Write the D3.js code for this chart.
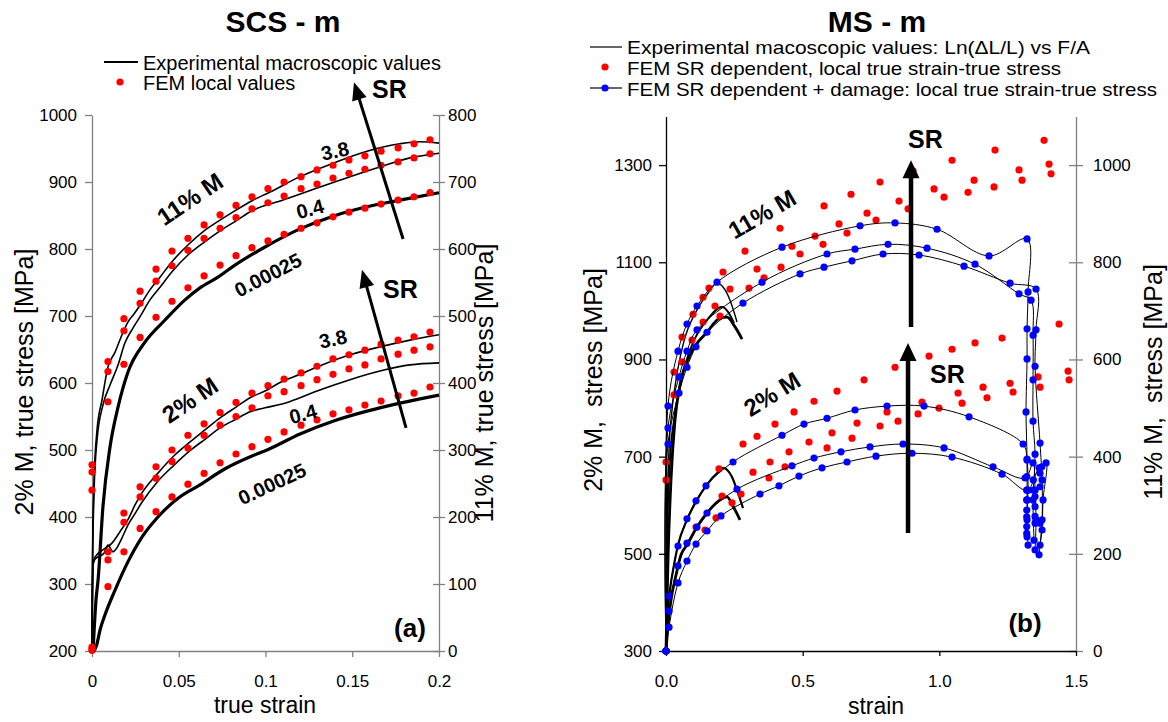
<!DOCTYPE html>
<meta charset="utf-8">
<title>SCS - m / MS - m</title>
<style>
body { margin: 0; background: #fff; }
text { font-family: "Liberation Sans", Arial, Helvetica, sans-serif; }
</style>
<body>
<script src="https://d3js.org/d3.v7.min.js"></script>
<script>
// ================= panel (a) SCS - m =================
// experimental curves, 11% M read on the right axis
var a11_38_x = [0, 0.0003, 0.0012, 0.0029, 0.0058, 0.0092, 0.0133, 0.0173, 0.0207, 0.0242, 0.0277, 0.0334, 0.0392, 0.0461, 0.0553, 0.0646, 0.0738, 0.083, 0.0922, 0.1026, 0.1199, 0.1389, 0.1585, 0.1775, 0.189, 0.2];
var a11_38_y = [0, 136, 255, 330, 375, 424, 446, 472, 491, 503, 516, 539, 558, 581, 606, 627, 643, 658, 672, 685, 708, 728, 746, 757, 760, 758];
var a11_04_x = [0, 0.0003, 0.0012, 0.0029, 0.0063, 0.0104, 0.015, 0.019, 0.0236, 0.0277, 0.0334, 0.0392, 0.0461, 0.0553, 0.0646, 0.0738, 0.083, 0.0922, 0.1101, 0.1297, 0.1487, 0.1677, 0.1833, 0.2];
var a11_04_y = [0, 121, 240, 315, 367, 397, 427, 460, 482, 499, 524, 543, 566, 591, 610, 627, 642, 657, 673, 691, 708, 724, 736, 743];
var a11_00025_x = [0.0006, 0.0023, 0.0035, 0.0063, 0.0104, 0.015, 0.0207, 0.0305, 0.0421, 0.0536, 0.0622, 0.0726, 0.0824, 0.0997, 0.1199, 0.1389, 0.1585, 0.1775, 0.2];
var a11_00025_y = [0, 76, 106, 215, 305, 364, 416, 461, 494, 524, 542, 558, 576, 603, 630, 649, 663, 673, 684];
// experimental curves, 2% M read on the left axis
var a2_38_x = [0, 0.0002, 0.0006, 0.0017, 0.0069, 0.0115, 0.0161, 0.0207, 0.0248, 0.0288, 0.0375, 0.0467, 0.0565, 0.0651, 0.0738, 0.083, 0.0911, 0.0997, 0.1101, 0.1199, 0.1297, 0.1487, 0.1677, 0.1833, 0.2];
var a2_38_y = [200, 276, 328, 340, 352, 361, 378, 396, 418, 436, 464, 490, 512, 530, 548, 564, 578, 588, 603, 613, 624, 642, 655, 664, 672];
var a2_04_x = [0, 0.0002, 0.0006, 0.0017, 0.0069, 0.0092, 0.0121, 0.0138, 0.0173, 0.0207, 0.0248, 0.0288, 0.0375, 0.0467, 0.0565, 0.0651, 0.0738, 0.083, 0.0911, 0.0997, 0.1101, 0.1199, 0.1297, 0.1487, 0.1677, 0.1833, 0.2];
var a2_04_y = [200, 276, 328, 337, 346, 358, 348, 352, 369, 388, 405, 422, 452, 476, 499, 516, 533, 546, 557, 563, 569, 578, 588, 605, 619, 627, 630];
var a2_00025_x = [0.0012, 0.0027, 0.0046, 0.0075, 0.0133, 0.0207, 0.0288, 0.038, 0.0496, 0.0622, 0.0767, 0.0922, 0.1009, 0.1199, 0.1389, 0.1585, 0.1775, 0.2];
var a2_00025_y = [200, 209, 231, 254, 291, 333, 370, 400, 428, 448, 472, 491, 500, 524, 543, 558, 570, 582];
// FEM local values (same strain steps for all six series)
var aDotStrain = [0, 0.0092, 0.0184, 0.0277, 0.0369, 0.0461, 0.0553, 0.0646, 0.0738, 0.083, 0.0922, 0.1014, 0.1107, 0.1205, 0.1297, 0.1389, 0.1481, 0.1573, 0.1666, 0.1764, 0.1856, 0.1948];
var aFem11_38 = [278, 432, 496, 537, 570, 597, 616, 636, 651, 665, 678, 690, 700, 708, 718, 725, 733, 739, 746, 751, 757, 763];
var aFem11_04 = [267, 417, 478, 519, 552, 575, 598, 616, 631, 647, 660, 669, 679, 690, 697, 706, 713, 719, 725, 730, 736, 742];
var aFem11_00025 = [240, 372, 428, 468, 498, 522, 542, 560, 576, 590, 602, 612, 622, 631, 639, 648, 655, 661, 667, 673, 678, 684];
var aFem2_38 = [206, 348, 406, 445, 475, 500, 522, 539, 556, 571, 585, 596, 606, 615, 625, 636, 642, 649, 658, 664, 669, 676];
var aFem2_04 = [203, 336, 392, 430, 458, 483, 503, 522, 537, 550, 563, 581, 587, 596, 605, 613, 621, 627, 636, 643, 649, 654];
var aFem2_00025 = [201, 296, 348, 383, 408, 430, 449, 465, 481, 494, 505, 516, 527, 537, 545, 554, 560, 567, 573, 581, 585, 594];
var aTicksX = [0, 0.05, 0.1, 0.15, 0.2];
var aTicksL = [200, 300, 400, 500, 600, 700, 800, 900, 1000];
var aTicksR = [0, 100, 200, 300, 400, 500, 600, 700, 800];

// ================= panel (b) MS - m =================
// experimental macroscopic curves
var b11E1_x = [0, 0.0037, 0.011, 0.022, 0.0366, 0.0622, 0.1134, 0.15, 0.1866, 0.2086, 0.2342, 0.2525, 0.2598];
var b11E1_y = [0, 270, 414, 496, 558, 630, 702, 733, 757, 749, 722, 691, 677];
var b11E2_x = [0, 0.0037, 0.0146, 0.0293, 0.0512, 0.0878, 0.15, 0.2049, 0.2269, 0.2488];
var b11E2_y = [0, 228, 393, 475, 547, 619, 681, 708, 698, 675];
var b11E3_x = [0, 0.0073, 0.0183, 0.0329, 0.0512, 0.0878, 0.15, 0.1976, 0.2232, 0.2525, 0.2781];
var b11E3_y = [0, 187, 352, 475, 547, 609, 656, 685, 687, 667, 642];
var b2E1_x = [0, 0.0037, 0.0146, 0.0293, 0.0439, 0.0768, 0.1134, 0.1464, 0.1976, 0.2086, 0.2415, 0.2598, 0.2817];
var b2E1_y = [300, 364, 426, 477, 518, 570, 611, 640, 672, 677, 658, 631, 594];
var b2E2_x = [0, 0.0073, 0.0183, 0.0366, 0.0549, 0.0768, 0.1134, 0.15, 0.1976, 0.2232, 0.2451, 0.2708];
var b2E2_y = [300, 354, 405, 456, 498, 518, 555, 584, 611, 617, 598, 570];
// FEM SR dependent + damage (blue), 11% M on right axis
var b11A_x = [0, 0.0073, 0.0439, 0.0768, 0.1134, 0.1866, 0.4244, 0.7098, 0.8379, 0.9916, 1.1818, 1.3209, 1.3246, 1.3209, 1.3209, 1.3172, 1.3209, 1.3209, 1.3209];
var b11A_y = [0, 504, 617, 673, 710, 759, 831, 875, 881, 868, 813, 848, 739, 663, 601, 492, 395, 311, 235];
var b11B_x = [0, 0.0073, 0.0476, 0.0768, 0.1134, 0.3513, 0.5891, 0.6915, 0.8123, 0.955, 1.1306, 1.2916, 1.3355, 1.3428, 1.3428, 1.3428, 1.3502, 1.3428, 1.3465];
var b11B_y = [0, 459, 564, 617, 661, 759, 817, 827, 837, 829, 796, 735, 722, 650, 558, 473, 405, 311, 228];
var b11C_x = [0, 0.0073, 0.0476, 0.0768, 0.1098, 0.15, 0.2817, 0.4903, 0.5781, 0.6806, 0.794, 0.9257, 1.0904, 1.2587, 1.3538, 1.3538, 1.3502, 1.3684, 1.3758, 1.3758, 1.3648];
var b11C_y = [0, 426, 531, 584, 626, 656, 716, 776, 790, 803, 817, 815, 792, 757, 745, 661, 586, 428, 352, 270, 198];
// FEM SR dependent + damage (blue), 2% M on left axis
var b2T_x = [0, 0.011, 0.0439, 0.0768, 0.1098, 0.1464, 0.2451, 0.4244, 0.5049, 0.5891, 0.6915, 0.8086, 0.944, 1.1087, 1.3063, 1.3209, 1.3246, 1.3209, 1.3246];
var b2T_y = [300, 413, 516, 572, 609, 640, 689, 744, 767, 779, 796, 804, 804, 782, 726, 693, 631, 570, 518];
var b2M_x = [0, 0.011, 0.0439, 0.0768, 0.1134, 0.15, 0.2598, 0.461, 0.5415, 0.6403, 0.7464, 0.8672, 1.0172, 1.1965, 1.3136, 1.3428, 1.3502, 1.3538, 1.3502];
var b2M_y = [300, 382, 475, 522, 555, 584, 633, 681, 697, 710, 720, 726, 718, 679, 656, 687, 631, 570, 508];
var b2L_x = [0, 0.011, 0.0439, 0.0768, 0.1098, 0.15, 0.2012, 0.3439, 0.4135, 0.4866, 0.5708, 0.6623, 0.7684, 0.9001, 1.0465, 1.2294, 1.3209, 1.3648, 1.3904, 1.3794, 1.3758, 1.3684];
var b2L_y = [300, 349, 440, 485, 520, 547, 578, 623, 640, 660, 677, 689, 701, 707, 699, 664, 631, 677, 687, 611, 549, 518];
// extra damaged points packed in the collapse zone (2% M, left axis)
var bClust_x = [1.3198, 1.3198, 1.3198, 1.3198, 1.3198, 1.3198, 1.3198, 1.3439, 1.3439, 1.3502, 1.3502, 1.3502, 1.3502, 1.3684, 1.3684, 1.3684, 1.3746];
var bClust_y = [659, 631, 611, 590, 576, 556, 542, 652, 631, 618, 597, 577, 563, 666, 638, 563, 679];
// FEM SR dependent (red)
var b11Red_x = [0, 0, 0.0293, 0.0293, 0.0585, 0.0585, 0.0988, 0.0951, 0.1354, 0.1354, 0.1573, 0.1793, 0.1976, 0.2086, 0.2342, 0.2891, 0.3037, 0.333, 0.3586, 0.4171, 0.4208, 0.461, 0.4903, 0.5452, 0.5745, 0.5781, 0.633, 0.6623, 0.6769, 0.7355, 0.7684, 0.783, 0.8525, 0.8855, 0.9038, 0.9806, 1.0172, 1.0465, 1.105, 1.127, 1.2001, 1.2038, 1.2916, 1.3026, 1.3831, 1.4014, 1.4087];
var b11Red_y = [389, 352, 574, 527, 646, 595, 693, 640, 728, 677, 747, 710, 689, 780, 745, 823, 747, 786, 768, 870, 790, 833, 817, 854, 837, 916, 879, 860, 940, 901, 887, 965, 926, 910, 988, 951, 934, 1010, 944, 969, 955, 1031, 990, 969, 1051, 1002, 982];
var b2Red_x = [0.1098, 0.1427, 0.1829, 0.1939, 0.2049, 0.2415, 0.2744, 0.2817, 0.3183, 0.333, 0.3769, 0.3805, 0.3988, 0.4354, 0.45, 0.4683, 0.5232, 0.5415, 0.5891, 0.6074, 0.6257, 0.6806, 0.6989, 0.7245, 0.783, 0.8086, 0.8379, 0.8489, 0.9221, 0.9367, 0.9623, 0.9989, 1.0465, 1.0684, 1.0831, 1.1306, 1.1599, 1.1745, 1.2294, 1.2587, 1.2697, 1.3611, 1.3684, 1.438, 1.4709, 1.4746];
var b2Red_y = [555, 549, 574, 675, 619, 605, 623, 726, 668, 742, 656, 689, 767, 679, 710, 792, 730, 814, 718, 749, 835, 738, 769, 858, 763, 792, 884, 773, 788, 812, 907, 800, 921, 831, 810, 934, 843, 821, 944, 851, 833, 864, 843, 973, 876, 858];
var bTicksX = [0, 0.5, 1.0, 1.5];
var bTicksL = [300, 500, 700, 900, 1100, 1300];
var bTicksR = [0, 200, 400, 600, 800, 1000];

var FONT = '"Liberation Sans", Arial, Helvetica, sans-serif';
var GREY = "#808080";

var svg = d3.select("body").append("svg")
    .attr("width", 1168)
    .attr("height", 722)
    .style("font-family", FONT);

// scales
var xA = d3.scaleLinear().domain([0, 0.2]).range([92, 439]);
var yA2 = d3.scaleLinear().domain([200, 1000]).range([651, 115]);
var yA11 = d3.scaleLinear().domain([0, 800]).range([651, 115]);
var xB = d3.scaleLinear().domain([0, 1.5]).range([666, 1076]);
var yB2 = d3.scaleLinear().domain([300, 1400]).range([651, 116.5]);
var yB11 = d3.scaleLinear().domain([0, 1100]).range([651, 116.5]);

function pts(xs, ys) { return xs.map(function(x, i) { return [x, ys[i]]; }); }

function styleAxis(g, col) {
  g.attr("font-size", 17).attr("font-family", FONT);
  g.select(".domain").attr("stroke", col).attr("stroke-width", 1.3);
  g.selectAll(".tick line").attr("stroke", col).attr("stroke-width", 1.3);
  g.selectAll(".tick text").attr("fill", "#000");
}
var intFmt = d3.format("d");

// ---------- axes (a)
var gAL = svg.append("g").attr("transform", "translate(92,0)")
    .call(d3.axisLeft(yA2).tickValues(aTicksL).tickFormat(intFmt).tickSize(7).tickPadding(8).tickSizeOuter(0));
styleAxis(gAL, GREY);
var gAR = svg.append("g").attr("transform", "translate(439,0)")
    .call(d3.axisRight(yA11).tickValues(aTicksR).tickFormat(intFmt).tickSize(6).tickPadding(3).tickSizeOuter(0));
styleAxis(gAR, GREY);
gAR.selectAll(".tick line").attr("x1", -6);
var gAB = svg.append("g").attr("transform", "translate(0,651)")
    .call(d3.axisBottom(xA).tickValues(aTicksX).tickSize(6).tickPadding(18).tickSizeOuter(0)
      .tickFormat(function(d) { return String(d); }));
styleAxis(gAB, GREY);

// ---------- axes (b)
var gBL = svg.append("g").attr("transform", "translate(666,0)")
    .call(d3.axisLeft(yB2).tickValues(bTicksL).tickFormat(intFmt).tickSize(7).tickPadding(7).tickSizeOuter(0));
styleAxis(gBL, "#000");
var gBR = svg.append("g").attr("transform", "translate(1076,0)")
    .call(d3.axisRight(yB11).tickValues(bTicksR).tickFormat(intFmt).tickSize(7).tickPadding(10).tickSizeOuter(0));
styleAxis(gBR, GREY);
gBR.selectAll(".tick line").attr("x1", -7);
var gBB = svg.append("g").attr("transform", "translate(0,651)")
    .call(d3.axisBottom(xB).tickValues(bTicksX).tickSize(5).tickPadding(19).tickSizeOuter(0)
      .tickFormat(d3.format(".1f")));
styleAxis(gBB, "#000");

// ---------- curves (a)
function line(xs, ys, xs_, ys_, curve) {
  return d3.line().x(function(d) { return xs_(d[0]); }).y(function(d) { return ys_(d[1]); })
    .curve(curve || d3.curveMonotoneX)(pts(xs, ys));
}
var curvesA = svg.append("g").attr("fill", "none").attr("stroke", "#000").attr("stroke-linejoin", "round");
[[a11_38_x, a11_38_y, yA11, 1.6], [a11_04_x, a11_04_y, yA11, 1.6], [a11_00025_x, a11_00025_y, yA11, 3.2],
 [a2_38_x, a2_38_y, yA2, 1.6], [a2_04_x, a2_04_y, yA2, 1.6], [a2_00025_x, a2_00025_y, yA2, 3.2]]
  .forEach(function(c) {
    curvesA.append("path").attr("d", line(c[0], c[1], xA, c[2])).attr("stroke-width", c[3]);
  });

var dotsA = svg.append("g").attr("fill", "#ff0000");
[[aFem11_38, yA11], [aFem11_04, yA11], [aFem11_00025, yA11],
 [aFem2_38, yA2], [aFem2_04, yA2], [aFem2_00025, yA2]].forEach(function(s) {
  dotsA.selectAll(null).data(pts(aDotStrain, s[0])).enter().append("circle")
    .attr("cx", function(d) { return xA(d[0]); })
    .attr("cy", function(d) { return s[1](d[1]); })
    .attr("r", 3.6);
});

// ---------- curves (b)
var curvesB = svg.append("g").attr("fill", "none").attr("stroke", "#000").attr("stroke-linejoin", "round");
[[b11E1_x, b11E1_y, yB11, 1.4], [b11E2_x, b11E2_y, yB11, 1.9], [b11E3_x, b11E3_y, yB11, 2.8],
 [b2E1_x, b2E1_y, yB2, 2.2], [b2E2_x, b2E2_y, yB2, 2.8]].forEach(function(c) {
  curvesB.append("path").attr("d", line(c[0], c[1], xB, c[2])).attr("stroke-width", c[3]);
});

var redB = svg.append("g").attr("fill", "#ff0000");
[[b11Red_x, b11Red_y, yB11], [b2Red_x, b2Red_y, yB2]].forEach(function(s) {
  redB.selectAll(null).data(pts(s[0], s[1])).enter().append("circle")
    .attr("cx", function(d) { return xB(d[0]); })
    .attr("cy", function(d) { return s[2](d[1]); })
    .attr("r", 3.6);
});

var blueSeries = [[b11A_x, b11A_y, yB11], [b11B_x, b11B_y, yB11], [b11C_x, b11C_y, yB11],
                  [b2T_x, b2T_y, yB2], [b2M_x, b2M_y, yB2], [b2L_x, b2L_y, yB2]];
var blueB = svg.append("g");
blueSeries.forEach(function(s) {
  blueB.append("path")
    .attr("d", line(s[0], s[1], xB, s[2], d3.curveCatmullRom.alpha(0.5)))
    .attr("fill", "none").attr("stroke", "#000").attr("stroke-width", 1);
});
blueSeries.concat([[bClust_x, bClust_y, yB2]]).forEach(function(s) {
  blueB.selectAll(null).data(pts(s[0], s[1])).enter().append("circle")
    .attr("cx", function(d) { return xB(d[0]); })
    .attr("cy", function(d) { return s[2](d[1]); })
    .attr("r", 3.6).attr("fill", "#0000ff");
});

// ---------- SR arrows
function arrow(x1, y1, x2, y2, w, hl, hw) {
  var dx = x2 - x1, dy = y2 - y1, L = Math.sqrt(dx * dx + dy * dy);
  var ux = dx / L, uy = dy / L, bx = x2 - ux * hl, by = y2 - uy * hl;
  svg.append("line").attr("x1", x1).attr("y1", y1).attr("x2", bx + ux * 2).attr("y2", by + uy * 2)
    .attr("stroke", "#000").attr("stroke-width", w);
  svg.append("path")
    .attr("d", "M" + x2 + "," + y2 + "L" + (bx - uy * hw / 2) + "," + (by + ux * hw / 2) +
               "L" + (bx + uy * hw / 2) + "," + (by - ux * hw / 2) + "Z")
    .attr("fill", "#000");
}
arrow(xA(0.1793), yA11(615), xA(0.151), yA11(849), 3, 18, 15);
arrow(xA(0.181), yA2(533), xA(0.1556), yA2(769), 3, 18, 15);
arrow(xB(0.8964), yB11(667), xB(0.8964), yB11(1010), 4.5, 18, 17);
arrow(xB(0.8855), yB2(543), xB(0.8855), yB2(934), 4.5, 18, 17);

// ---------- text
function txt(s, x, y, size, opts) {
  opts = opts || {};
  var t = svg.append("text").text(s)
    .attr("transform", "translate(" + x + "," + y + ")" + (opts.rot ? " rotate(" + opts.rot + ")" : ""))
    .attr("font-size", size)
    .attr("font-weight", opts.bold ? "bold" : "normal")
    .attr("text-anchor", opts.anchor || "start")
    .style("white-space", "pre")
    .attr("fill", "#000");
  if (opts.mid) t.attr("dominant-baseline", "central");
  if (opts.len) t.attr("textLength", opts.len).attr("lengthAdjust", "spacingAndGlyphs");
  return t;
}
txt("SCS - m", 283, 32, 30, { bold: true, anchor: "middle" });
txt("MS - m", 877, 32, 30, { bold: true, anchor: "middle" });

// legends
svg.append("line").attr("x1", 104).attr("x2", 138).attr("y1", 62).attr("y2", 62).attr("stroke", "#000").attr("stroke-width", 1.8);
txt("Experimental macroscopic values", 143, 70, 20);
svg.append("circle").attr("cx", 120).attr("cy", 82).attr("r", 3.6).attr("fill", "#ff0000");
txt("FEM local values", 143, 90, 20);

svg.append("line").attr("x1", 590).attr("x2", 622).attr("y1", 47).attr("y2", 47).attr("stroke", "#000").attr("stroke-width", 1.2);
txt("Experimental macoscopic values: Ln(\u0394L/L) vs F/A", 627, 54, 19, { len: 463 });
svg.append("circle").attr("cx", 605).attr("cy", 67).attr("r", 3.6).attr("fill", "#ff0000");
txt("FEM SR dependent, local true strain-true stress", 627, 75, 19, { len: 434 });
svg.append("line").attr("x1", 590).attr("x2", 622).attr("y1", 88).attr("y2", 88).attr("stroke", "#000").attr("stroke-width", 1.2);
svg.append("circle").attr("cx", 605).attr("cy", 88).attr("r", 3.6).attr("fill", "#0000ff");
txt("FEM SR dependent + damage: local true strain-true stress", 627, 96, 19, { len: 530 });

// axis titles
txt("2% M, true stress [MPa]", 33, 382, 25, { rot: -90, anchor: "middle" });
txt("11% M, true stress [MPa]", 493, 383, 25, { rot: -90, anchor: "middle" });
txt("true strain", 265, 713, 23, { anchor: "middle" });
txt("2% M,  stress [MPa]", 602, 380, 25, { rot: -90, anchor: "middle" });
txt("11% M,  stress [MPa]", 1162, 382, 25, { rot: -90, anchor: "middle" });
txt("strain", 876, 714, 23, { anchor: "middle" });

// annotations (a)
txt("SR", 372, 98, 25, { bold: true });
txt("SR", 383, 298, 25, { bold: true });
txt("11% M", 190, 199, 24, { bold: true, anchor: "middle", mid: true, rot: -34 });
txt("2% M", 190, 400, 24, { bold: true, anchor: "middle", mid: true, rot: -34 });
txt("3.8", 335, 151, 20, { bold: true, anchor: "middle", mid: true, rot: -12 });
txt("0.4", 310, 209, 20, { bold: true, anchor: "middle", mid: true, rot: -15 });
txt("0.00025", 268, 275, 20, { bold: true, anchor: "middle", mid: true, rot: -27 });
txt("3.8", 333, 339, 20, { bold: true, anchor: "middle", mid: true, rot: -12 });
txt("0.4", 303, 414, 20, { bold: true, anchor: "middle", mid: true, rot: -15 });
txt("0.00025", 272, 484, 20, { bold: true, anchor: "middle", mid: true, rot: -25 });
txt("(a)", 410, 637, 26, { bold: true, anchor: "middle" });

// annotations (b)
txt("SR", 908, 148, 25, { bold: true });
txt("SR", 930, 383, 25, { bold: true });
txt("11% M", 762, 214, 24, { bold: true, anchor: "middle", mid: true, rot: -30 });
txt("2% M", 772, 394, 24, { bold: true, anchor: "middle", mid: true, rot: -32 });
txt("(b)", 1025, 632, 26, { bold: true, anchor: "middle" });
</script>
</body>
